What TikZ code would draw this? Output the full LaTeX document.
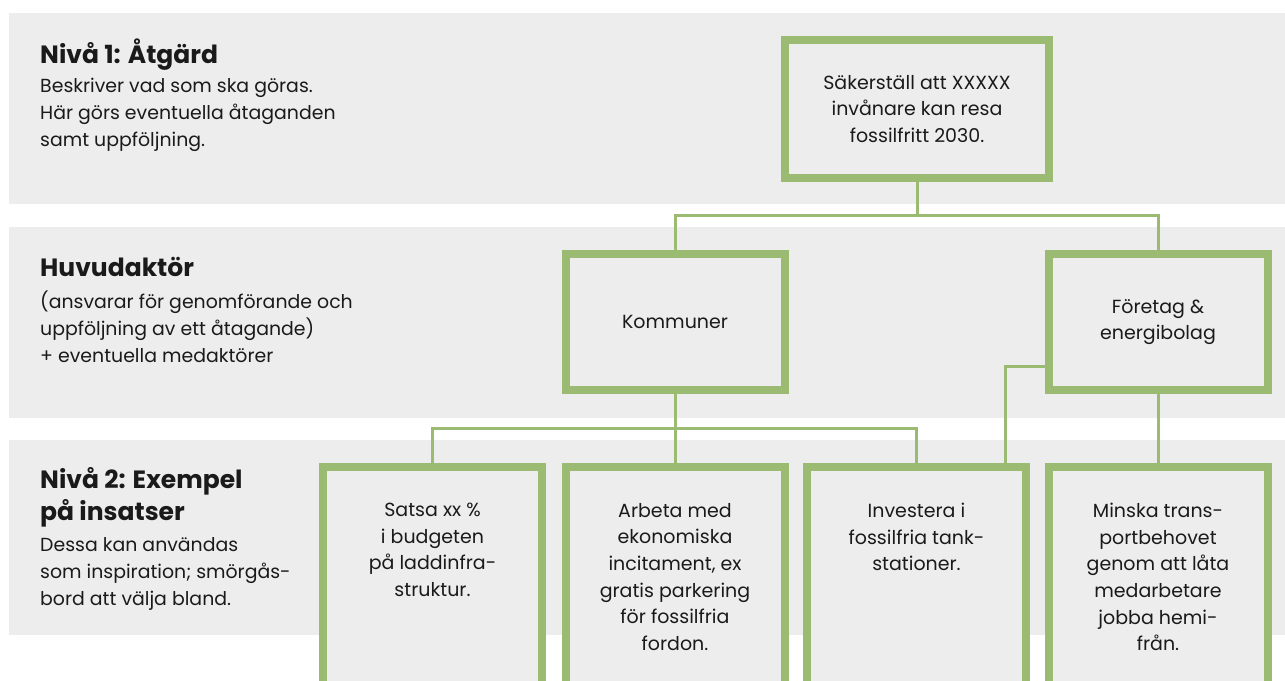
\documentclass[tikz,border=0pt]{standalone}
\usepackage{fontspec}
\setmainfont{Poppins}
\usetikzlibrary{positioning}
\definecolor{bandgray}{HTML}{EDEDED}
\definecolor{leafgreen}{HTML}{9BBB72}
\definecolor{inkgray}{HTML}{1A1A1A}
\newcommand{\band}[2]{\fill[bandgray] (9,#1) rectangle (1285,#2);}
\newcommand{\greenbox}[5]{\node[greenbox, minimum width=#3, minimum height=#4] (#1) at (#2) {#5};}
\tikzset{
  greenbox/.style={draw=leafgreen, line width=8pt, fill=bandgray, align=center,
    text=inkgray, font=\fontsize{19}{26.5}\selectfont, inner sep=0pt},
  leaftext/.style={align=center, text=inkgray, font=\fontsize{19}{26.6}\selectfont, inner sep=0pt},
  headtext/.style={align=left, text=inkgray, font=\fontsize{25}{32}\selectfont\bfseries, inner sep=0pt},
  bodytext/.style={align=left, text=inkgray, font=\fontsize{18.9}{27}\selectfont, inner sep=0pt},
  link/.style={draw=leafgreen, line width=3pt}
}

\begin{document}
\begin{tikzpicture}[x=1pt, y=-1pt]
\path[use as bounding box, clip] (0,0) rectangle (1285,680);
% grey bands
\band{13}{204}
\band{227}{418}
\band{440}{635}
% level texts
\node[headtext, anchor=base west] (lvl1) at (40,63) {Nivå 1: Åtgärd};
\node[bodytext, anchor=north west] (lvl1text) at (40,78) {Beskriver vad som ska göras.\\Här görs eventuella åtaganden\\samt uppföljning.};
\node[headtext, anchor=base west] (actor) at (40,276) {Huvudaktör};
\node[bodytext, anchor=north west] (actortext) at (40,291) {(ansvarar för genomförande och\\uppföljning av ett åtagande)\\+ eventuella medaktörer};
\node[headtext, anchor=north west] (lvl2) at (40,467) {Nivå 2: Exempel\\på insatser};
\node[bodytext, anchor=north west] (lvl2text) at (40,537) {Dessa kan användas\\som inspiration; smörgås-\\bord att välja bland.};
% boxes
\greenbox{goal}{917,109}{264pt}{138pt}{Säkerställ att XXXXX\\invånare kan resa\\fossilfritt 2030.}
\greenbox{kom}{675,322}{219pt}{136pt}{Kommuner}
\greenbox{fore}{1158,322}{219pt}{136pt}{Företag \&\\energibolag}
\greenbox{b1}{432.5,617}{219pt}{300pt}{}
\greenbox{b2}{675,617}{219pt}{300pt}{}
\greenbox{b3}{916.5,617}{219pt}{300pt}{}
\greenbox{b4}{1158,617}{219pt}{300pt}{}
% box texts
\node[leaftext, below=40pt of b1.north] (t1) {Satsa xx \%\\i budgeten\\på laddinfra-\\struktur.};
\node[leaftext, below=40pt of b2.north] (t2) {Arbeta med\\ekonomiska\\incitament, ex\\gratis parkering\\för fossilfria\\fordon.};
\node[leaftext, below=40pt of b3.north] (t3) {Investera i\\fossilfria tank-\\stationer.};
\node[leaftext, below=40pt of b4.north] (t4) {Minska trans-\\portbehovet\\genom att låta\\medarbetare\\jobba hemi-\\från.};
% connectors
\coordinate (j1) at (917,215);
\coordinate (j2) at (675,428);
\draw[link] (goal.south) -- (j1);
\draw[link] (kom.north) |- (j1) -| (fore.north);
\draw[link] (kom.south) -- (b2.north);
\draw[link] (b1.north) |- (j2) -| (b3.north);
\draw[link] ([yshift=-44pt]fore.west) -| ([xshift=88.5pt]b3.north);
\draw[link] (fore.south) -- (b4.north);
\end{tikzpicture}
\end{document}
